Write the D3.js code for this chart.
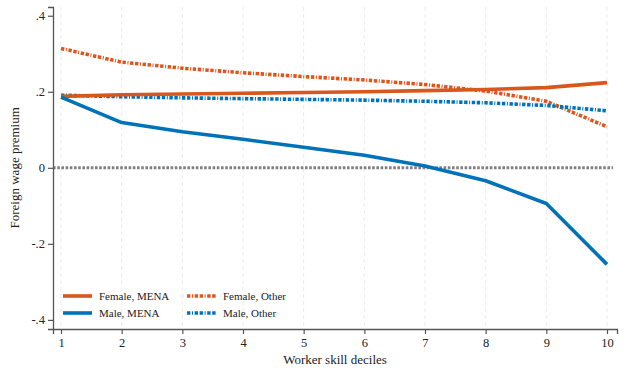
<!DOCTYPE html>
<html>
<head>
<meta charset="utf-8">
<script src="https://cdn.jsdelivr.net/npm/d3@7"></script>
<style>
  body { margin: 0; background: #fff; }
  svg { display: block; font-family: "Liberation Serif", "DejaVu Serif", serif; }
</style>
</head>
<body>
<div id="chart"></div>
<script>
const deciles = [1, 2, 3, 4, 5, 6, 7, 8, 9, 10];
const femaleMena  = [0.188, 0.192, 0.194, 0.196, 0.198, 0.200, 0.203, 0.206, 0.211, 0.224];
const maleMena    = [0.186, 0.119, 0.095, 0.075, 0.054, 0.033, 0.005, -0.034, -0.094, -0.254];
const femaleOther = [0.314, 0.278, 0.262, 0.250, 0.240, 0.231, 0.219, 0.202, 0.175, 0.108];
const maleOther   = [0.191, 0.187, 0.184, 0.182, 0.180, 0.178, 0.175, 0.171, 0.164, 0.150];
const yTicks = [0.4, 0.2, 0, -0.2, -0.4];
const yTickLabels = [".4", ".2", "0", "-.2", "-.4"];

const dashOther = "3.4,1.6,1,1.6,3.4,1.6";
const series = [
    { name: "Female, MENA", values: femaleMena, color: "#D9571C", dash: null },
    { name: "Male, MENA", values: maleMena, color: "#0072B8", dash: null },
    { name: "Female, Other", values: femaleOther, color: "#D9571C", dash: dashOther },
    { name: "Male, Other", values: maleOther, color: "#0072B8", dash: dashOther }
];

const width = 625, height = 373;
const svg = d3.select("#chart").append("svg")
    .attr("width", width)
    .attr("height", height);

const x = d3.scaleLinear().domain([0.868, 10.165]).range([53, 617]);
const y = d3.scaleLinear().domain([-0.424, 0.423]).range([329, 7]);

// vertical grid
svg.append("g")
    .selectAll("line")
    .data(deciles)
    .join("line")
    .attr("x1", d => x(d)).attr("x2", d => x(d))
    .attr("y1", y.range()[1]).attr("y2", y.range()[0])
    .attr("stroke", "#ebebeb")
    .attr("stroke-width", 1)
    .attr("stroke-dasharray", "4,3");

// zero reference line
svg.append("line")
    .attr("x1", x.range()[0]).attr("x2", x(10.1))
    .attr("y1", y(0)).attr("y2", y(0))
    .attr("stroke", "#808080")
    .attr("stroke-width", 3)
    .attr("stroke-dasharray", "2.6,1.6");

// axes
const xAxis = svg.append("g")
    .attr("transform", `translate(0,${y.range()[0]})`)
    .call(d3.axisBottom(x).tickValues(deciles).tickSizeOuter(0).tickSize(5).tickPadding(4));

const yAxis = svg.append("g")
    .attr("transform", `translate(${x.range()[0]},0)`)
    .call(d3.axisLeft(y).tickValues(yTicks).tickSizeOuter(0).tickSize(5).tickPadding(3)
        .tickFormat((d, i) => yTickLabels[i]));

[xAxis, yAxis].forEach(g => {
    g.select(".domain").attr("stroke", "#555").attr("stroke-width", 1.3);
    g.selectAll(".tick line").attr("stroke", "#555").attr("stroke-width", 1.2);
    g.selectAll(".tick text")
        .attr("fill", "#222")
        .style("font-family", "'Liberation Serif', serif")
        .style("font-size", "12.5px");
});

// lines
const line = d3.line()
    .x((d, i) => x(deciles[i]))
    .y(d => y(d));

svg.append("g")
    .selectAll("path")
    .data([series[2], series[3], series[0], series[1]])
    .join("path")
    .attr("d", d => line(d.values))
    .attr("fill", "none")
    .attr("stroke", d => d.color)
    .attr("stroke-width", 3.6)
    .attr("stroke-dasharray", d => d.dash)
    .attr("stroke-linejoin", "round");

// legend
const legendPos = [
    { x: 63, y: 296 }, { x: 63, y: 313 },
    { x: 187, y: 296 }, { x: 187, y: 313 }
];
const legend = svg.append("g")
    .selectAll("g")
    .data(series)
    .join("g")
    .attr("transform", (d, i) => `translate(${legendPos[i].x},${legendPos[i].y})`);

legend.append("line")
    .attr("x1", 0).attr("x2", 29)
    .attr("y1", 0).attr("y2", 0)
    .attr("stroke", d => d.color)
    .attr("stroke-width", 3.6)
    .attr("stroke-dasharray", d => d.dash);

legend.append("text")
    .attr("x", 36)
    .attr("y", 3.8)
    .style("font-size", "11px")
    .attr("fill", "#222")
    .text(d => d.name);

// axis titles
svg.append("text")
    .attr("x", 335)
    .attr("y", 364)
    .attr("text-anchor", "middle")
    .style("font-size", "13px")
    .attr("fill", "#222")
    .text("Worker skill deciles");

svg.append("text")
    .attr("transform", `translate(19,${y(0)}) rotate(-90)`)
    .attr("text-anchor", "middle")
    .style("font-size", "13px")
    .attr("fill", "#222")
    .text("Foreign wage premium");
</script>
</body>
</html>
